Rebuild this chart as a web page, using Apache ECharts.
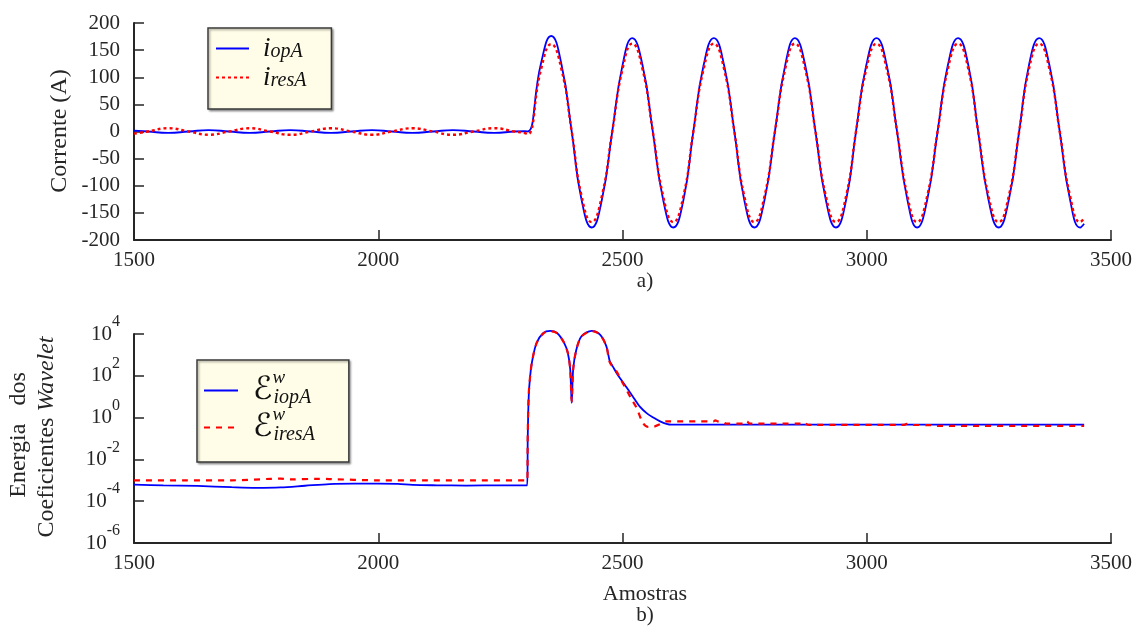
<!DOCTYPE html>
<html>
<head>
<meta charset="utf-8">
<script src="https://cdn.jsdelivr.net/npm/echarts@6/dist/echarts.min.js"></script>
<style>html,body{margin:0;padding:0;background:#fff}#chart{width:1138px;height:631px}</style>
</head>
<body>
<div id="chart"></div>
<script>
// ---------- tick labels ----------
const sampleTicks = [1500, 2000, 2500, 3000, 3500];
const currentTicks = [-200, -150, -100, -50, 0, 50, 100, 150, 200];
const energyExpTicks = [-6, -4, -2, 0, 2, 4];

// ---------- a) operating current i_opA (A) ----------
const opA_samples = [1500,1528,1570,1612,1653,1695,1737,1778,1820,1862,1903,1945,1987,2028,2070,2112,2153,2195,2237,2279,2300,2306,
  2333,2354,2375,2396,2416,2437,2458,2479,2500,2520,2541,2562,2583,2604,2625,2645,2666,2687,2708,2729,2749,2770,2791,2812,2833,2853,2874,2895,2916,2937,2958,2978,2999,3020,3041,3062,3083,3103,3124,3145,3166,3187,3208,3228,3249,3270,3291,3312,3332,3353,3374,3395,3416,3437,3445];
const opA_values = [1.5,0,-2.5,0,2.5,0,-2.5,0,2.5,0,-2.5,0,2.5,0,-2.5,0,2.5,0,-2.5,0,0.5,0,
  125,176,124,0,-125,-177,-125,0,122,172,122,0,-125,-177,-125,0,122,172,122,0,-125,-177,-125,0,122,172,122,0,-125,-177,-125,0,122,172,122,0,-125,-177,-125,0,122,172,122,0,-125,-177,-125,0,122,172,122,0,-125,-177,-170];

// ---------- a) restraint current i_resA (A) ----------
const resA_samples = [1500,1528,1570,1612,1653,1695,1737,1778,1820,1862,1903,1945,1987,2028,2070,2112,2153,2195,2237,2279,2300,2306,
  2333,2354,2375,2396,2416,2437,2458,2479,2500,2520,2541,2562,2583,2604,2625,2645,2666,2687,2708,2729,2749,2770,2791,2812,2833,2853,2874,2895,2916,2937,2958,2978,2999,3020,3041,3062,3083,3103,3124,3145,3166,3187,3208,3228,3249,3270,3291,3312,3332,3353,3374,3395,3416,3437,3445];
const resA_values = [-4,0,6,0,-6,0,6,0,-6,0,6,0,-6,0,6,0,-6,0,6,0,-3,-5,
  114,161,115,0,-118,-167,-118,0,115,162,115,0,-118,-167,-118,0,115,162,115,0,-118,-167,-118,0,115,162,115,0,-118,-167,-118,0,115,162,115,0,-118,-167,-118,0,115,162,115,0,-118,-167,-118,0,115,162,115,0,-118,-167,-160];

// ---------- b) wavelet energy, log10 of value ----------
const EopA_samples = [1500,1560,1630,1700,1750,1800,1850,1900,1950,2000,2040,2070,2120,2180,2250,2300,2305,2306,2308,2311,2315,2324,2338,2352,2366,2380,2388,2393,2396,2399,2405,2416,2437,2454,2467,2474,2480,2490,2502,2520,2536,2550,2563,2577,2590,2600,3445];
const EopA_log10 = [-3.21,-3.24,-3.27,-3.33,-3.36,-3.34,-3.26,-3.18,-3.16,-3.16,-3.17,-3.22,-3.24,-3.25,-3.24,-3.24,-3.24,-1.0,1.0,2.0,2.7,3.57,4.05,4.15,4.05,3.6,3.1,2.3,0.7,2.3,3.2,3.89,4.15,3.97,3.41,2.69,2.45,2.05,1.66,1.05,0.51,0.2,0.0,-0.18,-0.30,-0.34,-0.34];

const EresA_samples = [1500,1600,1700,1780,1800,1820,1875,1900,2000,2100,2200,2305,2306,2308,2311,2315,2324,2338,2352,2366,2380,2388,2393,2396,2399,2405,2416,2437,2454,2467,2474,2488,2498,2508,2518,2529,2542,2553,2565,2578,2590,2686,2690,2695,2706,2712,2750,2755,2760,2865,2870,2877,2882,3075,3082,3090,3130,3140,3445];
const EresA_log10 = [-3.0,-3.0,-3.0,-2.93,-2.92,-2.96,-2.93,-2.94,-3.0,-3.0,-3.0,-3.0,-0.8,1.1,2.0,2.7,3.55,4.03,4.13,4.04,3.6,3.1,2.3,0.78,2.3,3.2,3.88,4.14,3.97,3.4,2.65,2.2,1.75,1.34,0.9,0.46,-0.26,-0.45,-0.43,-0.3,-0.18,-0.18,-0.13,-0.18,-0.22,-0.29,-0.29,-0.18,-0.29,-0.29,-0.22,-0.32,-0.35,-0.35,-0.30,-0.35,-0.36,-0.40,-0.40];

// ---------- build ----------
const SERIF = "'Liberation Serif','Times New Roman',serif";
const INK = '#262626';
const pairs = (xs, ys) => xs.map((x, i) => [x, ys[i]]);
const powPairs = (xs, es) => xs.map((x, i) => [x, Math.pow(10, es[i])]);

const xAxisCommon = (gridIndex) => ({
  type: 'value', gridIndex,
  min: sampleTicks[0], max: sampleTicks[sampleTicks.length - 1],
  interval: sampleTicks[1] - sampleTicks[0],
  axisLine: { show: true, onZero: false, lineStyle: { color: INK, width: 2 } },
  axisTick: { show: true, inside: true, length: 10, lineStyle: { color: INK, width: 1.5 } },
  splitLine: { show: false },
  axisLabel: { color: INK, fontFamily: SERIF, fontSize: 21, margin: 10, formatter: v => String(v) }
});

const legendBox = {
  orient: 'vertical', selectedMode: false,
  backgroundColor: '#fffde7', borderColor: '#3a3a3a', borderWidth: 1.5,
  shadowColor: 'rgba(0,0,0,0.35)', shadowBlur: 2, shadowOffsetX: 1.5, shadowOffsetY: 1.5,
  itemStyle: { opacity: 0 }
};

const chart = echarts.init(document.getElementById('chart'), null, { renderer: 'canvas' });
chart.setOption({
  animation: false,
  backgroundColor: '#fff',
  grid: [
    { left: 134, right: 27, top: 23, height: 217 },
    { left: 134, right: 27, top: 334, height: 209 }
  ],
  xAxis: [xAxisCommon(0), xAxisCommon(1)],
  yAxis: [
    {
      type: 'value', gridIndex: 0,
      min: currentTicks[0], max: currentTicks[currentTicks.length - 1],
      interval: currentTicks[1] - currentTicks[0],
      axisLine: { show: true, onZero: false, lineStyle: { color: INK, width: 2 } },
      axisTick: { show: true, inside: true, length: 10, lineStyle: { color: INK, width: 1.5 } },
      splitLine: { show: false },
      axisLabel: { color: INK, fontFamily: SERIF, fontSize: 21, margin: 14 }
    },
    {
      type: 'log', gridIndex: 1, logBase: 10,
      min: Math.pow(10, energyExpTicks[0]), max: Math.pow(10, energyExpTicks[energyExpTicks.length - 1]),
      interval: energyExpTicks[1] - energyExpTicks[0],
      axisLine: { show: true, onZero: false, lineStyle: { color: INK, width: 2 } },
      axisTick: { show: true, inside: true, length: 10, lineStyle: { color: INK, width: 1.5 } },
      splitLine: { show: false },
      axisLabel: {
        color: INK, fontFamily: SERIF, margin: 14,
        formatter: v => '{b|10}{e|' + Math.round(Math.log10(v)) + '}',
        rich: {
          b: { fontFamily: SERIF, fontSize: 21, lineHeight: 22, color: INK },
          e: { fontFamily: SERIF, fontSize: 16, lineHeight: 16, padding: [0, 0, 24, 0], color: INK }
        }
      }
    }
  ],
  legend: [
    Object.assign({}, legendBox, {
      left: 208, top: 28,
      data: ['iopA', 'iresA'],
      itemWidth: 33, itemHeight: 14, itemGap: 2,
      padding: [7, 25, 18, 7],
      formatter: n => '{i|i}{s|' + n.slice(1) + '}',
      textStyle: {
        rich: {
          i: { fontFamily: SERIF, fontStyle: 'italic', fontSize: 27, lineHeight: 27, padding: [0, 0, 0, 9], color: '#111' },
          s: { fontFamily: SERIF, fontStyle: 'italic', fontSize: 20, lineHeight: 20, padding: [7, 0, 0, 0], color: '#111' }
        }
      }
    }),
    Object.assign({}, legendBox, {
      left: 197, top: 360,
      data: ['EiopA', 'EiresA'],
      itemWidth: 34, itemHeight: 14, itemGap: -8,
      padding: [8, 34, 12, 6],
      formatter: n => '{E|\u2130}{w|w}{s|' + n.slice(1) + '}',
      textStyle: {
        rich: {
          E: { fontFamily: "'DejaVu Serif','DejaVu Sans',serif", fontSize: 32, lineHeight: 26, padding: [0, 0, 0, 10], color: '#111' },
          w: { fontFamily: SERIF, fontStyle: 'italic', fontSize: 19, lineHeight: 14, width: 1, padding: [0, 0, 26, 0], color: '#111' },
          s: { fontFamily: SERIF, fontStyle: 'italic', fontSize: 20, lineHeight: 16, padding: [14, 0, 0, 0], color: '#111' }
        }
      }
    })
  ],
  graphic: [
    { type: 'text', x: 60, y: 131, rotation: Math.PI / 2,
      style: { text: 'Corrente (A)', fontFamily: SERIF, fontSize: 24, fill: INK, align: 'center', verticalAlign: 'middle' } },
    { type: 'text', x: 19, y: 435, rotation: Math.PI / 2,
      style: { text: 'Energia   dos', fontFamily: SERIF, fontSize: 24, fill: INK, align: 'center', verticalAlign: 'middle' } },
    { type: 'text', x: 47, y: 437, rotation: Math.PI / 2,
      style: { text: '{n|Coeficientes }{w|Wavelet}', align: 'center', verticalAlign: 'middle',
        rich: { n: { fontFamily: SERIF, fontSize: 24, fill: INK, color: INK },
                w: { fontFamily: SERIF, fontStyle: 'italic', fontSize: 24, fill: INK, color: INK } } } },
    { type: 'text', x: 645, y: 281,
      style: { text: 'a)', fontFamily: SERIF, fontSize: 21, fill: INK, align: 'center', verticalAlign: 'middle' } },
    { type: 'text', x: 645, y: 594,
      style: { text: 'Amostras', fontFamily: SERIF, fontSize: 22, fill: INK, align: 'center', verticalAlign: 'middle' } },
    { type: 'text', x: 645, y: 615,
      style: { text: 'b)', fontFamily: SERIF, fontSize: 21, fill: INK, align: 'center', verticalAlign: 'middle' } }
  ],
  series: [
    { name: 'iopA', type: 'line', xAxisIndex: 0, yAxisIndex: 0, data: pairs(opA_samples, opA_values),
      showSymbol: false, symbol: 'none', smooth: 0.5,
      lineStyle: { color: '#0000ff', width: 1.8 }, itemStyle: { color: '#0000ff' } },
    { name: 'iresA', type: 'line', xAxisIndex: 0, yAxisIndex: 0, data: pairs(resA_samples, resA_values),
      showSymbol: false, symbol: 'none', smooth: 0.5,
      lineStyle: { color: '#ff0000', width: 2.4, type: [3, 3] }, itemStyle: { color: '#ff0000' } },
    { name: 'EiopA', type: 'line', xAxisIndex: 1, yAxisIndex: 1, data: powPairs(EopA_samples, EopA_log10),
      showSymbol: false, symbol: 'none', smooth: 0.3, clip: false,
      lineStyle: { color: '#0000ff', width: 1.8 }, itemStyle: { color: '#0000ff' } },
    { name: 'EiresA', type: 'line', xAxisIndex: 1, yAxisIndex: 1, data: powPairs(EresA_samples, EresA_log10),
      showSymbol: false, symbol: 'none', smooth: 0.3, clip: false,
      lineStyle: { color: '#ff0000', width: 2.2, type: [6, 6] }, itemStyle: { color: '#ff0000' } }
  ]
});
</script>
</body>
</html>
